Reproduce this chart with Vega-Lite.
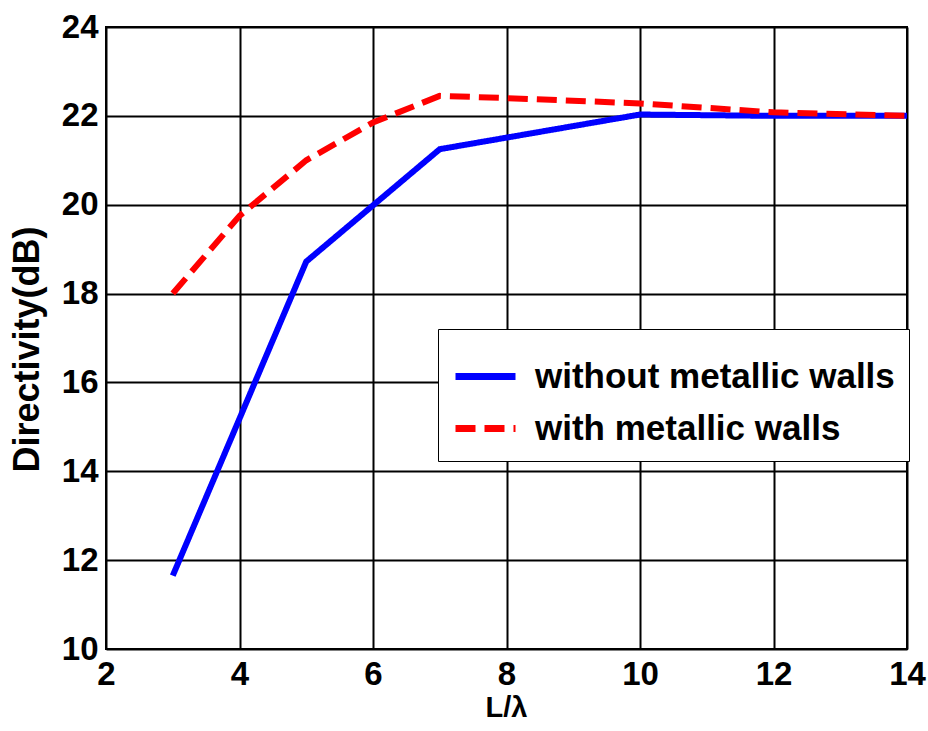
{
  "$schema": "https://vega.github.io/schema/vega-lite/v6.json",
  "autosize": "none",
  "width": 801,
  "height": 622,
  "padding": {"left": 106, "top": 27, "right": 21, "bottom": 82},
  "background": "white",
  "config": {
    "view": {"stroke": "black", "strokeWidth": 2},
    "font": "Liberation Sans"
  },
  "data": {
    "values": [
      {"L": 3, "D": 11.65, "series": "without metallic walls"},
      {"L": 5, "D": 18.72, "series": "without metallic walls"},
      {"L": 7, "D": 21.25, "series": "without metallic walls"},
      {"L": 10, "D": 22.03, "series": "without metallic walls"},
      {"L": 12, "D": 22.0, "series": "without metallic walls"},
      {"L": 14, "D": 22.0, "series": "without metallic walls"},
      {"L": 3, "D": 18.0, "series": "with metallic walls"},
      {"L": 4, "D": 19.75, "series": "with metallic walls"},
      {"L": 5, "D": 21.0, "series": "with metallic walls"},
      {"L": 6, "D": 21.85, "series": "with metallic walls"},
      {"L": 7, "D": 22.45, "series": "with metallic walls"},
      {"L": 8, "D": 22.4, "series": "with metallic walls"},
      {"L": 10, "D": 22.28, "series": "with metallic walls"},
      {"L": 12, "D": 22.08, "series": "with metallic walls"},
      {"L": 14, "D": 22.0, "series": "with metallic walls"}
    ]
  },
  "mark": {"type": "line", "strokeWidth": 6, "clip": true},
  "encoding": {
    "x": {
      "field": "L", "type": "quantitative",
      "scale": {"domain": [2, 14], "nice": false, "zero": false},
      "axis": {
        "values": [2, 4, 6, 8, 10, 12, 14],
        "title": "L/λ",
        "titleFont": "Liberation Sans", "titleFontSize": 29, "titleFontWeight": "bold", "titleColor": "black",
        "titleX": 400, "titleY": 58, "titleBaseline": "middle",
        "labelFont": "Liberation Sans", "labelFontSize": 33, "labelFontWeight": "bold", "labelColor": "black",
        "labelPadding": 9, "ticks": false, "domain": false,
        "grid": true, "gridColor": "black", "gridWidth": 2, "gridOpacity": 1,
        "labelFlush": false, "labelOverlap": false
      }
    },
    "y": {
      "field": "D", "type": "quantitative",
      "scale": {"domain": [10, 24], "nice": false, "zero": false},
      "axis": {
        "values": [10, 12, 14, 16, 18, 20, 22, 24],
        "title": "Directivity(dB)",
        "titleFont": "Liberation Sans", "titleFontSize": 36, "titleFontWeight": "bold", "titleColor": "black",
        "titleX": -79, "titleY": 322, "titleAngle": -90, "titleBaseline": "middle", "titleAlign": "center",
        "labelFont": "Liberation Sans", "labelFontSize": 33, "labelFontWeight": "bold", "labelColor": "black",
        "labelPadding": 8, "ticks": false, "domain": false,
        "grid": true, "gridColor": "black", "gridWidth": 2, "gridOpacity": 1,
        "labelFlush": false, "labelOverlap": false
      }
    },
    "color": {
      "field": "series", "type": "nominal",
      "scale": {"domain": ["without metallic walls", "with metallic walls"], "range": ["#0000ff", "#ff0000"]},
      "legend": {
        "title": null,
        "orient": "none", "legendX": 332, "legendY": 302,
        "strokeColor": "black", "fillColor": "white", "padding": 14,
        "symbolType": "stroke", "symbolSize": 3600, "symbolStrokeWidth": 7,
        "labelFont": "Liberation Sans", "labelFontSize": 35, "labelFontWeight": "bold", "labelColor": "black",
        "labelOffset": 16, "rowPadding": -25, "labelLimit": 600
      }
    },
    "strokeDash": {
      "field": "series", "type": "nominal",
      "scale": {"domain": ["without metallic walls", "with metallic walls"], "range": [[1, 0], [20, 9]]},
      "legend": {
        "title": null,
        "orient": "none", "legendX": 332, "legendY": 302,
        "strokeColor": "black", "fillColor": "white", "padding": 14,
        "symbolType": "stroke", "symbolSize": 3600, "symbolStrokeWidth": 7,
        "labelFont": "Liberation Sans", "labelFontSize": 35, "labelFontWeight": "bold", "labelColor": "black",
        "labelOffset": 16, "rowPadding": -25, "labelLimit": 600
      }
    }
  }
}
